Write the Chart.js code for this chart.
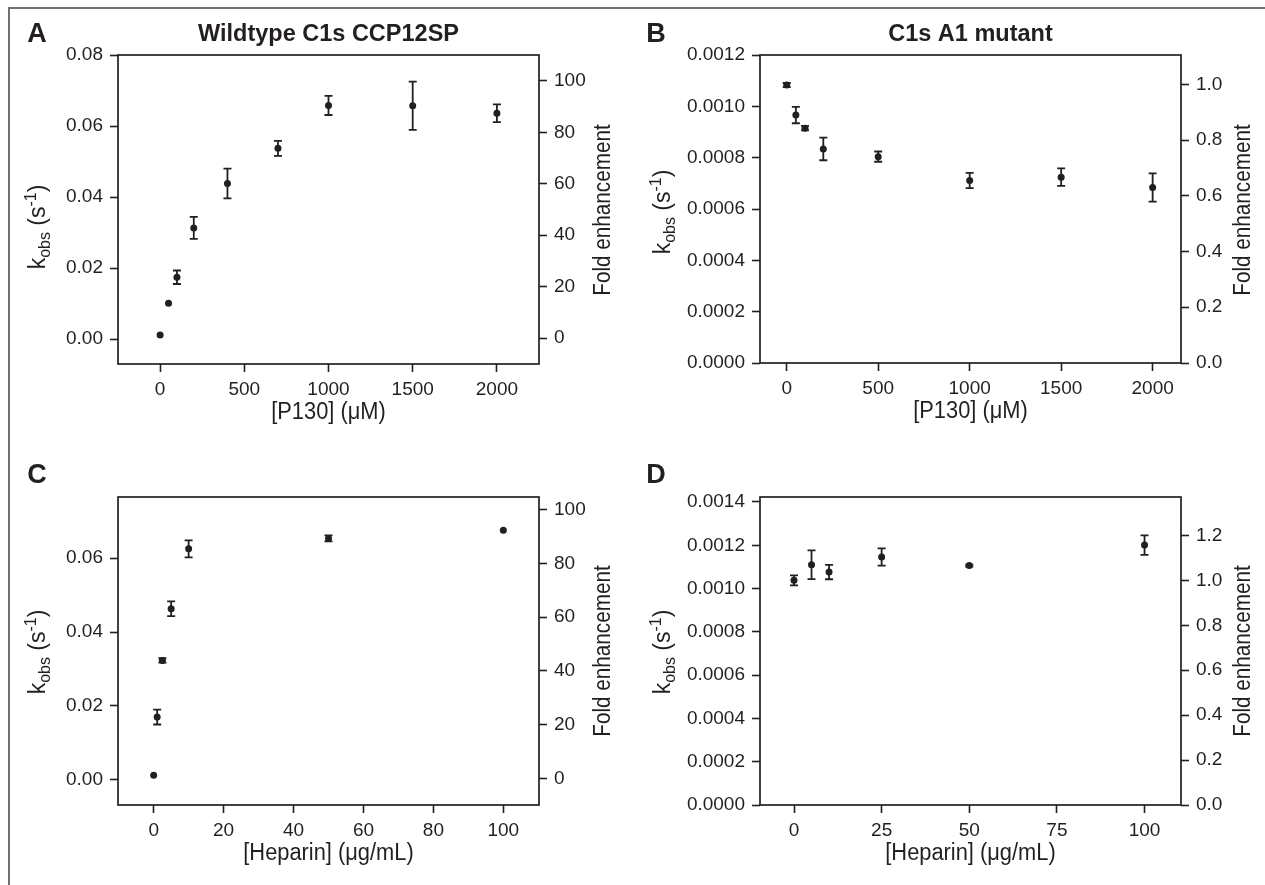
<!DOCTYPE html>
<html>
<head>
<meta charset="utf-8">
<script src="https://cdn.jsdelivr.net/npm/chart.js@4.4.1/dist/chart.umd.min.js"></script>
<style>
  body { margin: 0; background: #fff; }
  #fig { position: relative; width: 1265px; height: 885px; overflow: hidden; background: #fff; }
  #frame { position: absolute; left: 8px; top: 7px; width: 1300px; height: 900px;
           border-left: 2px solid #707070; border-top: 2px solid #707070; }
  canvas { position: absolute; }
</style>
</head>
<body>
<div id="fig">
  <div id="frame"></div>
  <canvas id="panelA" width="632" height="440" style="left:0;top:0"></canvas>
  <canvas id="panelB" width="633" height="440" style="left:632px;top:0"></canvas>
  <canvas id="panelC" width="632" height="445" style="left:0;top:440px"></canvas>
  <canvas id="panelD" width="633" height="445" style="left:632px;top:440px"></canvas>
</div>
<script>
const INK = "#231f20";
const FONT = "'Liberation Sans', Arial, Helvetica, sans-serif";

// A: wildtype, P130 titration
const aConc = [0, 50, 100, 200, 400, 700, 1000, 1500, 2000];
const aKobs = [0.0011, 0.0101, 0.0174, 0.0313, 0.0438, 0.0537, 0.0658, 0.0657, 0.0636];
const aErr  = [0, 0, 0.0019, 0.0031, 0.0042, 0.0021, 0.0027, 0.0068, 0.0025];

// B: A1 mutant, P130 titration
const bConc = [0, 50, 100, 200, 500, 1000, 1500, 2000];
const bKobs = [0.001083, 0.000966, 0.000915, 0.000834, 0.000804, 0.000711, 0.000724, 0.000684];
const bErr  = [0.000008, 0.000032, 0.000009, 0.000044, 0.00002, 0.00003, 0.000034, 0.000055];

// C: wildtype, heparin titration
const cHep  = [0, 1, 2.5, 5, 10, 50, 100];
const cKobs = [0.00126, 0.0170, 0.0323, 0.0463, 0.0625, 0.0653, 0.0675];
const cErr  = [0, 0.002, 0.0006, 0.002, 0.0023, 0.0008, 0];

// D: A1 mutant, heparin titration
const dHep  = [0, 5, 10, 25, 50, 100];
const dKobs = [0.001038, 0.00111, 0.001076, 0.001146, 0.001106, 0.001201];
const dErr  = [0.000023, 0.000066, 0.000033, 0.00004, 0.000005, 0.000045];

// tick labels
const p130Ticks   = [0, 500, 1000, 1500, 2000];
const hepTicksC   = [0, 20, 40, 60, 80, 100];
const hepTicksD   = [0, 25, 50, 75, 100];
const kTicksA     = [0, 0.02, 0.04, 0.06, 0.08];
const kTicksB     = [0, 0.0002, 0.0004, 0.0006, 0.0008, 0.0010, 0.0012];
const kTicksC     = [0, 0.02, 0.04, 0.06];
const kTicksD     = [0, 0.0002, 0.0004, 0.0006, 0.0008, 0.0010, 0.0012, 0.0014];
const foldTicksWt = [0, 20, 40, 60, 80, 100];
const foldTicksB  = [0, 0.2, 0.4, 0.6, 0.8, 1.0];
const foldTicksD  = [0, 0.2, 0.4, 0.6, 0.8, 1.0, 1.2];

const errorBars = {
  id: "errorBars",
  afterDatasetsDraw(chart) {
    const ctx = chart.ctx;
    const xs = chart.scales.x, ys = chart.scales.y;
    chart.data.datasets.forEach(ds => {
      if (!ds.errors) return;
      ctx.save();
      ctx.strokeStyle = INK;
      ctx.lineWidth = 1.8;
      ds.data.forEach((p, i) => {
        const e = ds.errors[i];
        if (!e) return;
        const px = xs.getPixelForValue(p.x);
        const y1 = ys.getPixelForValue(p.y + e);
        const y2 = ys.getPixelForValue(p.y - e);
        ctx.beginPath();
        ctx.moveTo(px, y1); ctx.lineTo(px, y2);
        ctx.moveTo(px - 4, y1); ctx.lineTo(px + 4, y1);
        ctx.moveTo(px - 4, y2); ctx.lineTo(px + 4, y2);
        ctx.stroke();
      });
      ctx.restore();
    });
  }
};

const frameBox = {
  id: "frameBox",
  afterDraw(chart) {
    const a = chart.chartArea, ctx = chart.ctx;
    ctx.save();
    ctx.strokeStyle = INK;
    ctx.lineWidth = 1.7;
    ctx.strokeRect(a.left, a.top, a.right - a.left, a.bottom - a.top);
    ctx.restore();
  }
};

function squeezed(ctx, text, x, y, rot, sx) {
  ctx.save();
  ctx.translate(x, y);
  ctx.rotate(rot);
  ctx.scale(sx, 1);
  ctx.fillText(text, 0, 0);
  ctx.restore();
}

const panelText = {
  id: "panelText",
  afterDraw(chart, args, o) {
    const ctx = chart.ctx, a = chart.chartArea;
    const midX = (a.left + a.right) / 2;
    ctx.save();
    ctx.fillStyle = INK;
    ctx.textAlign = "center";
    ctx.textBaseline = "middle";
    ctx.font = "bold 27px " + FONT;
    ctx.fillText(o.letter, o.letterX, o.letterY);
    if (o.title) {
      ctx.font = "bold 23.5px " + FONT;
      ctx.fillText(o.title, midX, o.titleY);
    }
    ctx.font = "23px " + FONT;
    squeezed(ctx, o.xTitle, midX, a.bottom + 49, 0, 0.95);
    squeezed(ctx, "Fold enhancement", o.foldX, o.foldY, -Math.PI / 2, 0.9);

    // k_obs (s^-1) with sub/superscript
    const parts = [
      { t: "k", s: 23, dy: 0 },
      { t: "obs", s: 16, dy: 5 },
      { t: " (s", s: 23, dy: 0 },
      { t: "-1", s: 16, dy: -9 },
      { t: ")", s: 23, dy: 0 }
    ];
    let total = 0;
    parts.forEach(p => { ctx.font = p.s + "px " + FONT; p.w = ctx.measureText(p.t).width; total += p.w; });
    ctx.translate(o.kX, o.kY);
    ctx.rotate(-Math.PI / 2);
    ctx.textAlign = "left";
    ctx.textBaseline = "alphabetic";
    let cx = -total / 2;
    parts.forEach(p => {
      ctx.font = p.s + "px " + FONT;
      ctx.fillText(p.t, cx, p.dy);
      cx += p.w;
    });
    ctx.restore();
  }
};

function axis(pos, min, max, tickList, fmt, size, pad) {
  return {
    type: "linear",
    position: pos,
    min: min,
    max: max,
    afterBuildTicks: s => { s.ticks = tickList.map(v => ({ value: v })); },
    afterFit: s => { if (pos === "bottom") s.height = size; else s.width = size; },
    grid: { drawOnChartArea: false, drawTicks: true, tickLength: 8, tickWidth: 1.6, tickColor: INK },
    border: { display: false },
    ticks: { font: { family: FONT, size: 19 }, color: INK, padding: pad, maxRotation: 0,
             autoSkip: false, callback: v => fmt(v) }
  };
}

function drawPanel(id, xs, ys, errs, o) {
  new Chart(document.getElementById(id), {
    type: "scatter",
    data: {
      datasets: [{
        data: xs.map((v, i) => ({ x: v, y: ys[i] })),
        errors: errs,
        pointRadius: 3.5,
        pointHoverRadius: 3.5,
        pointBackgroundColor: INK,
        pointBorderWidth: 0
      }]
    },
    options: {
      responsive: false,
      animation: false,
      events: [],
      layout: { padding: { top: o.top, left: 0, right: 0, bottom: 0 } },
      plugins: {
        legend: { display: false },
        tooltip: { enabled: false },
        panelText: o.text
      },
      scales: {
        x: axis("bottom", o.xMin, o.xMax, o.xTicks, v => String(v), o.xHeight, 6),
        y: axis("left", o.yMin, o.yMax, o.yTicks, o.yFmt, o.leftW, 7),
        y2: axis("right", o.rMin, o.rMax, o.rTicks, o.rFmt, o.rightW, 7)
      }
    },
    plugins: [errorBars, frameBox, panelText]
  });
}

drawPanel("panelA", aConc, aKobs, aErr, {
  top: 55, xHeight: 76, leftW: 118, rightW: 93,
  xMin: -250, xMax: 2250, xTicks: p130Ticks,
  yMin: -0.00704, yMax: 0.08, yTicks: kTicksA, yFmt: v => v.toFixed(2),
  rMin: -10.1, rMax: 110.1, rTicks: foldTicksWt, rFmt: v => String(v),
  text: { letter: "A", letterX: 37, letterY: 35, title: "Wildtype C1s CCP12SP", titleY: 35,
          xTitle: "[P130] (\u03bcM)", foldX: 604, foldY: 210, kX: 45, kY: 227 }
});

drawPanel("panelB", bConc, bKobs, bErr, {
  top: 55, xHeight: 77, leftW: 128, rightW: 84,
  xMin: -146, xMax: 2155, xTicks: p130Ticks,
  yMin: 0, yMax: 0.0012, yTicks: kTicksB, yFmt: v => v.toFixed(4),
  rMin: 0, rMax: 1.105, rTicks: foldTicksB, rFmt: v => v.toFixed(1),
  text: { letter: "B", letterX: 24, letterY: 35, title: "C1s A1 mutant", titleY: 35,
          xTitle: "[P130] (\u03bcM)", foldX: 612, foldY: 210, kX: 38, kY: 212 }
});

drawPanel("panelC", cHep, cKobs, cErr, {
  top: 57, xHeight: 80, leftW: 118, rightW: 93,
  xMin: -10.2, xMax: 110.2, xTicks: hepTicksC,
  yMin: -0.00677, yMax: 0.0765, yTicks: kTicksC, yFmt: v => v.toFixed(2),
  rMin: -9.94, rMax: 104.7, rTicks: foldTicksWt, rFmt: v => String(v),
  text: { letter: "C", letterX: 37, letterY: 36,
          xTitle: "[Heparin] (\u03bcg/mL)", foldX: 604, foldY: 211, kX: 45, kY: 212 }
});

drawPanel("panelD", dHep, dKobs, dErr, {
  top: 57, xHeight: 80, leftW: 128, rightW: 84,
  xMin: -9.7, xMax: 110.4, xTicks: hepTicksD,
  yMin: 0, yMax: 0.001423, yTicks: kTicksD, yFmt: v => v.toFixed(4),
  rMin: 0, rMax: 1.371, rTicks: foldTicksD, rFmt: v => v.toFixed(1),
  text: { letter: "D", letterX: 24, letterY: 36,
          xTitle: "[Heparin] (\u03bcg/mL)", foldX: 612, foldY: 211, kX: 38, kY: 212 }
});
</script>
</body>
</html>
